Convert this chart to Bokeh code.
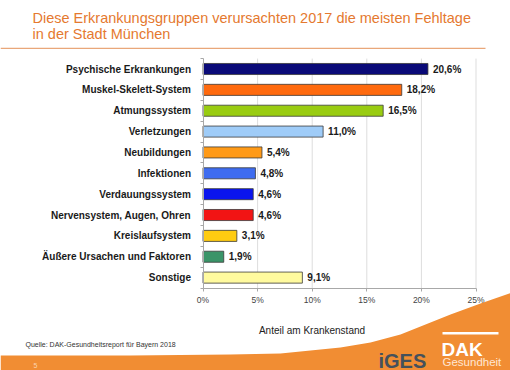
from bokeh.plotting import figure
from bokeh.models import (Range1d, Label, PolyAnnotation, BoxAnnotation,
                          FixedTicker, PrintfTickFormatter, ColumnDataSource)
from bokeh.core.properties import value
from bokeh.embed import file_html
from bokeh.resources import INLINE

categories = ["Psychische Erkrankungen", "Muskel-Skelett-System", "Atmungssystem",
              "Verletzungen", "Neubildungen", "Infektionen", "Verdauungssystem",
              "Nervensystem, Augen, Ohren", "Kreislaufsystem",
              "Äußere Ursachen und Faktoren", "Sonstige"]
values = [20.6, 18.2, 16.5, 11.0, 5.4, 4.8, 4.6, 4.6, 3.1, 1.9, 9.1]
colors = ["#0A0A78", "#FF6A0E", "#99CC11", "#9FCCF8", "#FF9A17", "#3E6CF0",
          "#0A14EE", "#F21414", "#FFCC11", "#3A9468", "#FFFA9E"]
x_ticks = [0, 5, 10, 15, 20, 25]
value_labels = [f"{v:.1f}".replace(".", ",") + "%" for v in values]

FONT = "Liberation Sans"
W, H = 510, 370
# layout of the plotting area in pixels
X0_PX, X1_PX = 202.5, 475.5      # 0% and 25%
Y0_PX, ROW_PX = 68.5, 20.86      # centre of first row, row pitch
PX_PER = (X1_PX - X0_PX) / (x_ticks[-1] - x_ticks[0])

n = len(categories)
rows = list(range(n))
x_range = Range1d(-X0_PX / PX_PER, (W - X0_PX) / PX_PER)
y_range = Range1d((H - Y0_PX) / ROW_PX, -Y0_PX / ROW_PX)

p = figure(width=W, height=H, x_range=x_range, y_range=y_range, title=None,
           output_backend="svg", toolbar_location=None,
           min_border=0, min_border_left=0, min_border_right=0,
           min_border_top=0, min_border_bottom=0)
p.outline_line_color = None
p.background_fill_color = "white"
p.border_fill_color = "white"
p.xgrid.visible = False
p.ygrid.visible = False

# x axis
p.xaxis.fixed_location = n - 0.5
p.xaxis.bounds = (x_ticks[0], x_ticks[-1])
p.xaxis.ticker = FixedTicker(ticks=x_ticks)
p.xaxis.formatter = PrintfTickFormatter(format="%d%%")
p.xaxis.axis_line_color = "#A8A8A8"
p.xaxis.major_tick_line_color = "#A8A8A8"
p.xaxis.major_tick_out = 3
p.xaxis.major_tick_in = 0
p.xaxis.minor_tick_line_color = None
p.xaxis.major_label_standoff = 4
p.xaxis.major_label_text_font = FONT
p.xaxis.major_label_text_font_size = "8.5px"
p.xaxis.major_label_text_color = "#444444"

# category axis
p.yaxis.fixed_location = 0
p.yaxis.bounds = (-0.5, n - 0.5)
p.yaxis.ticker = FixedTicker(ticks=rows, minor_ticks=[r - 0.5 for r in rows] + [n - 0.5])
p.yaxis.major_label_overrides = {r: c for r, c in zip(rows, categories)}
p.yaxis.axis_line_color = "#A8A8A8"
p.yaxis.major_tick_line_color = None
p.yaxis.major_tick_out = 0
p.yaxis.major_tick_in = 0
p.yaxis.minor_tick_line_color = "#A8A8A8"
p.yaxis.minor_tick_out = 3
p.yaxis.minor_tick_in = 0
p.yaxis.major_label_standoff = 9
p.yaxis.major_label_text_font = FONT
p.yaxis.major_label_text_font_style = "bold"
p.yaxis.major_label_text_font_size = "10px"
p.yaxis.major_label_text_color = "#1A1A1A"

# vertical grid lines, limited to the category area
p.segment(x0=x_ticks[1:], x1=x_ticks[1:], y0=-0.5, y1=n - 0.5,
          line_color="#DDDDDD", line_width=1)

src = ColumnDataSource(dict(row=rows, val=values, color=colors, lbl=value_labels))
p.hbar(y="row", left=0, right="val", height=0.53, fill_color="color",
       line_color="#3A3A3A", line_width=0.8, source=src)
p.text(x="val", y="row", text="lbl", x_offset=5, text_baseline="middle",
       text_font=value(FONT), text_font_style="bold", text_font_size="10px",
       text_color="#1A1A1A", source=src)


def sy(y):
    return H - y


def lab(x, y, text, size, color, bold=False, align="left"):
    p.add_layout(Label(x=x, y=sy(y), x_units="screen", y_units="screen", text=text,
                       text_font=FONT, text_font_size=size, text_color=color,
                       text_font_style="bold" if bold else "normal",
                       text_align=align, text_baseline="alphabetic"))


# title
lab(32, 17.5, "Diese Erkrankungsgruppen verursachten 2017 die meisten Fehltage", "14.5px", "#E5792F")
lab(32, 33.5, "in der Stadt München", "14.5px", "#E5792F")
p.add_layout(BoxAnnotation(left=0, right=485, top=sy(47.2), bottom=sy(48.4),
                           left_units="screen", right_units="screen",
                           top_units="screen", bottom_units="screen",
                           fill_color="#E9A77A", fill_alpha=1, line_color=None))

# axis title and source
lab(311.5, 330, "Anteil am Krankenstand", "10px", "#222222", align="center")
lab(25, 344, "Quelle: DAK-Gesundheitsreport für Bayern 2018", "7px", "#333333")

# bottom orange swoosh
bx = [0, 130, 230, 280, 310, 340, 370, 400, 420, 450, 480, 512, 512, 0]
by = [355, 355, 354, 353, 350, 347, 342, 334, 326, 314, 303, 292, 372, 372]
p.add_layout(PolyAnnotation(xs=bx, ys=[sy(v) for v in by],
                            xs_units="screen", ys_units="screen",
                            fill_color="#F18D33", fill_alpha=1, line_color=None))

lab(33, 365, "5", "7px", "#FBD3B0")
lab(378, 360, "iGES", "20px", "#44515C", bold=True)
p.add_layout(BoxAnnotation(left=442, right=498, top=sy(331.5), bottom=sy(334),
                           left_units="screen", right_units="screen",
                           top_units="screen", bottom_units="screen",
                           fill_color="white", fill_alpha=1, line_color=None))
lab(441, 349, "DAK", "19px", "white", bold=True)
lab(442, 361, "Gesundheit", "11.5px", "#FFE6D2")

open("out.html", "w").write(file_html(p, INLINE))
